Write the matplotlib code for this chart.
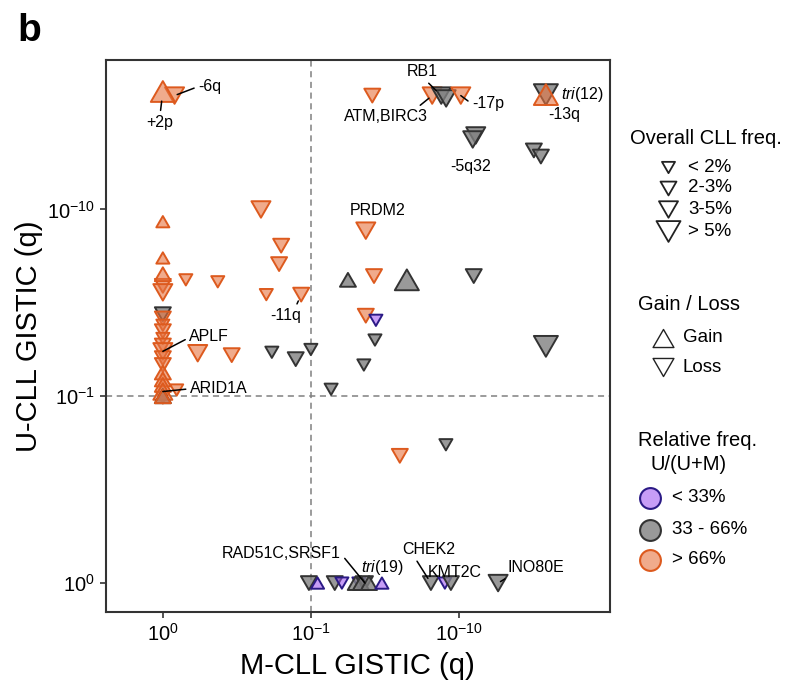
import numpy as np
import matplotlib.pyplot as plt
from matplotlib.path import Path

plt.rcParams['font.family'] = ['Liberation Sans', 'DejaVu Sans']
plt.rcParams['mathtext.fontset'] = 'custom'
plt.rcParams['mathtext.rm'] = 'Liberation Sans'
plt.rcParams['mathtext.it'] = 'Liberation Sans:italic'

# -log10(q) for each event; 0 means q = 1
m_nlq = [0, 0.12, 2.6, 6.6, 7.6, 8.2, 10.3, 38.7, 38.7, 13.0, 12.4, 32.1, 35.8,
         2.35, 0.46, 0, 0.63, 0.61, 0, 0, 0, 0, 0.143, 0.235, 0.50, 0.86,
         1.78, 2.67, 4.45, 12.6, 2.35, 2.75, 2.71, 2.28, 38.7, 1.37,
         0.172, 0.292, 0.545, 0.79, 1.0, 0.124,
         0, 0, 0, 0, 0, 0, 0, 0, 0, 0, 0, 0, 0, 0, 0, 0,
         3.99, 8.17,
         0.97, 1.11, 1.45, 1.62, 2.01, 2.11, 2.18, 2.32, 2.47, 3.02, 6.47, 8.04, 8.83, 18.4]
u_nlq = [42.8, 40.7, 40.7, 40.7, 40.7, 39.3, 40.7, 41.2, 41.2, 24.9, 23.7, 20.7, 19.2,
         7.7, 10.0, 8.6, 6.4, 5.1, 5.5, 4.5, 3.9, 3.6, 4.2, 4.1, 3.5, 3.5,
         4.2, 4.4, 4.2, 4.4, 2.7, 2.55, 2.0, 1.47, 1.85, 1.09,
         1.70, 1.66, 1.72, 1.58, 1.78, 1.08,
         2.75, 2.61, 2.40, 2.23, 2.04, 1.87, 1.74, 1.60, 1.47, 1.34, 1.23, 1.15, 1.06, 1.0, 0.98, 1.0,
         0.48, 0.55,
         0, 0, 0, 0, 0, 0, 0, 0, 0, 0, 0, 0, 0, 0]
# 1 = gain, 0 = loss
gain = [1, 0, 0, 0, 0, 0, 0, 0, 1, 0, 0, 0, 0,
        0, 0, 1, 0, 0, 1, 1, 0, 0, 0, 0, 0, 0,
        1, 0, 1, 0, 0, 0, 0, 0, 0, 0,
        0, 0, 0, 0, 0, 0,
        0, 0, 0, 0, 0, 0, 0, 0, 0, 1, 1, 1, 1, 1, 0, 1,
        0, 0,
        0, 1, 0, 0, 1, 0, 1, 0, 1, 1, 0, 0, 0, 0]
# overall CLL frequency class: 0 <2%, 1 2-3%, 2 3-5%, 3 >5%
freq_cls = [3, 2, 1, 2, 2, 2, 2, 3, 3, 2, 2, 1, 1,
            2, 2, 0, 1, 1, 0, 1, 1, 2, 0, 0, 0, 1,
            1, 1, 3, 1, 1, 0, 0, 0, 3, 0,
            2, 1, 0, 1, 0, 0,
            1, 1, 0, 1, 0, 1, 2, 1, 1, 1, 1, 1, 2, 1, 0, 1,
            1, 0,
            1, 0, 1, 0, 1, 0, 1, 1, 1, 0, 1, 0, 1, 2]
# relative frequency U/(U+M): 0 <33%, 1 33-66%, 2 >66%
rel_cls = [2, 2, 2, 2, 1, 1, 2, 1, 2, 1, 1, 1, 1,
           2, 2, 2, 2, 2, 2, 2, 2, 2, 2, 2, 2, 2,
           1, 2, 1, 1, 2, 0, 1, 1, 1, 1,
           2, 2, 1, 1, 1, 2,
           1, 2, 2, 2, 2, 2, 2, 2, 2, 2, 2, 2, 2, 1, 2, 2,
           2, 1,
           1, 0, 1, 0, 1, 0, 1, 1, 1, 0, 1, 0, 1, 1]

freq_labels = ['< 2%', '2-3%', '3-5%', '> 5%']
rel_labels = ['< 33%', '33 - 66%', '> 66%']
tick_q = [1, 1e-1, 1e-10]
tick_labels = [r'$10^{0}$', r'$10^{-1}$', r'$10^{-10}$']

# label, point index, offset (points), ha, line start on text (relpos) or None
annots = [
    ('+2p', 0, (-2, -22), 'center', (0.5, 1), 7),
    ('-6q', 1, (17, 6.5), 'left', (0, 0.5), 2),
    ('ATM,BIRC3', 3, (-33, -15), 'center', (0.85, 1), 3),
    ('RB1', 4, (-14, 17), 'center', (0.6, 0), 5),
    ('-17p', 6, (8, -6), 'left', (0, 0.5), 0),
    (r'$\it{tri}$(12)', 8, (11, 0), 'left', None, 0),
    ('-13q', 7, (13, -14), 'center', None, 0),
    ('-5q32', 9, (-3.5, -22), 'center', None, 0),
    ('PRDM2', 13, (8.5, 14.5), 'center', None, 0),
    ('-11q', 25, (-11, -15), 'center', (0.8, 1), 5),
    ('APLF', 48, (19, 11), 'left', (0, 0.4), 0),
    ('ARID1A', 54, (19.5, 2), 'left', (0, 0.5), 0),
    ('RAD51C,SRSF1', 67, (-60, 21), 'center', (1, 0.5), 0),
    (r'$\it{tri}$(19)', 68, (-6, 11), 'left', None, 0),
    ('CHEK2', 70, (-1.5, 24), 'center', (0.23, 0), 4),
    ('KMT2C', 72, (3, 7.5), 'center', None, 0),
    ('INO80E', 73, (7, 11), 'left', (0.05, 0), 2),
]

size_pt = np.array([9.4, 11.5, 13.7, 17.3])
face = [(0.60, 0.30, 0.95, 0.55), (0.50, 0.50, 0.50, 0.80), (0.90, 0.45, 0.25, 0.60)]
edge = ['#2b1a86', '#333333', '#dd5a1e']
up_tri = Path([(-1, -0.866), (1, -0.866), (0, 0.866), (-1, -0.866)], closed=True)
down_tri = Path([(-1, 0.866), (1, 0.866), (0, -0.866), (-1, 0.866)], closed=True)


def tr(v):
    return np.log10(np.maximum(np.asarray(v, float), 0.1))


x = tr(m_nlq)
y = tr(u_nlq)
g = np.array(gain)
fc = np.array([face[r] for r in rel_cls])
ec = np.array([edge[r] for r in rel_cls])
ss = size_pt[np.array(freq_cls)] ** 2

fig = plt.figure(figsize=(7.9, 6.82), dpi=100)
ax = fig.add_axes([0.134, 0.1026, 0.638, 0.8094])

ax.axvline(0, color='#808080', ls=(0, (4, 3)), lw=1.1, zorder=1)
ax.axhline(0, color='#808080', ls=(0, (4, 3)), lw=1.1, zorder=1)

for k, mk in ((0, down_tri), (1, up_tri)):
    msk = g == k
    ax.scatter(x[msk], y[msk], s=ss[msk], marker=mk, facecolors=fc[msk],
               edgecolors=ec[msk], linewidths=1.4, zorder=2 + k)

for txt, i, off, ha, rp, shr in annots:
    kw = {}
    if rp is not None:
        kw['arrowprops'] = dict(arrowstyle='-', color='black', lw=1.1,
                                relpos=rp, shrinkA=1, shrinkB=shr)
    ax.annotate(txt, xy=(x[i], y[i]), xytext=off, textcoords='offset points',
                ha=ha, va='center', fontsize=11.5, zorder=5, **kw)

ax.set_xlim(-1.385, 2.02)
ax.set_ylim(-1.155, 1.80)
tk = tr(-np.log10(tick_q))
ax.set_xticks(tk)
ax.set_xticklabels(tick_labels)
ax.set_yticks(tk)
ax.set_yticklabels(tick_labels)
ax.tick_params(length=4, width=1.2, color='#333333', labelsize=14.5, pad=4)
for sp in ax.spines.values():
    sp.set_color('#333333')
    sp.set_linewidth(1.5)
ax.set_xlabel('M-CLL GISTIC (q)', fontsize=21, labelpad=5)
ax.set_ylabel('U-CLL GISTIC (q)', fontsize=21, labelpad=3)

fig.text(0.022, 0.94, 'b', fontsize=28, fontweight='bold')

# legends, laid out in pixel units on an overlay axes
lax = fig.add_axes([0, 0, 1, 1])
lax.set_xlim(0, 790)
lax.set_ylim(682, 0)
lax.axis('off')

lax.text(630, 138, 'Overall CLL freq.', fontsize=14.5, va='center')
for j, (lab, yy) in enumerate(zip(freq_labels, [167, 188, 209, 231])):
    lax.scatter(668, yy, s=size_pt[j] ** 2, marker=down_tri, facecolors='white',
                edgecolors='#222222', linewidths=1.3)
    lax.text(688, yy, lab, fontsize=13.5, va='center')

lax.text(638, 304, 'Gain / Loss', fontsize=14.5, va='center')
for lab, mk, yy in (('Gain', up_tri, 338), ('Loss', down_tri, 367)):
    lax.scatter(663, yy, s=15 ** 2, marker=mk, facecolors='white',
                edgecolors='#222222', linewidths=1.0)
    lax.text(683, yy, lab, fontsize=13.5, va='center')

lax.text(638, 440, 'Relative freq.', fontsize=14.5, va='center')
lax.text(650, 465, 'U/(U+M)', fontsize=14.5, va='center')
for j, (lab, yy) in enumerate(zip(rel_labels, [498, 530, 560])):
    lax.scatter(650, yy, s=15 ** 2, marker='o', facecolors=[face[j]],
                edgecolors=edge[j], linewidths=1.5)
    lax.text(672, yy, lab, fontsize=13.5, va='center')

fig.savefig('out.png', dpi=100)
